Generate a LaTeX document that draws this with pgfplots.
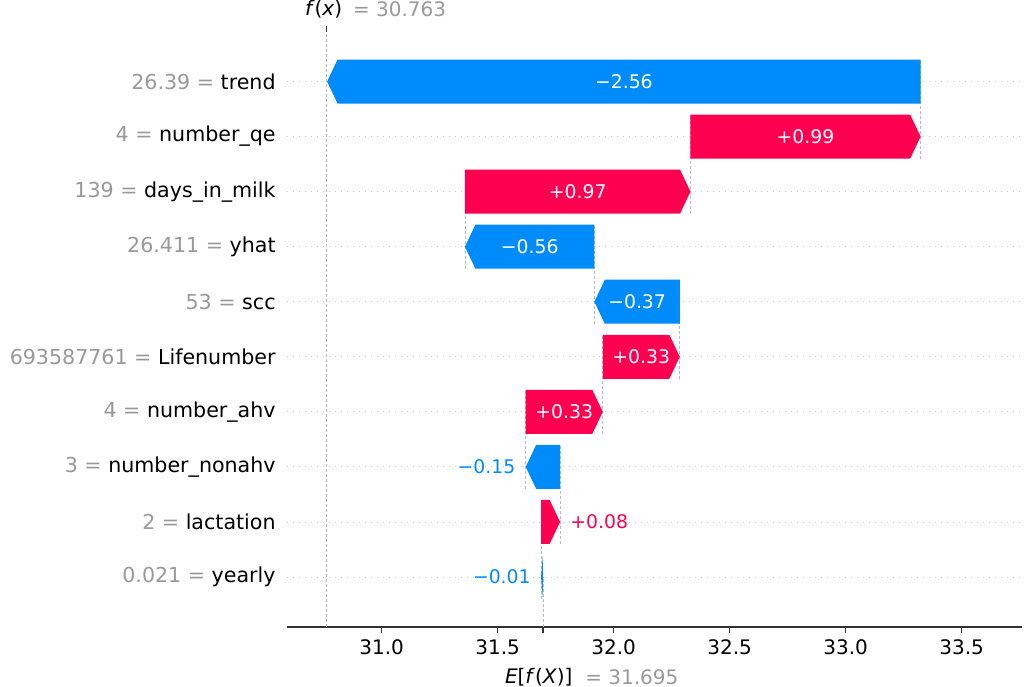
\documentclass[border=0pt]{standalone}
\usepackage{fontspec}
\setmainfont{DejaVu Sans}
\usepackage{pgfplots}
\pgfplotsset{compat=1.18}
\definecolor{shapred}{HTML}{FF0051}
\definecolor{shapblue}{HTML}{008BFB}
\definecolor{valgray}{HTML}{999999}
\definecolor{linegray}{HTML}{BBBBBB}
\definecolor{gridgray}{HTML}{CCCCCC}
\definecolor{axisgray}{HTML}{333333}
\newcommand{\fsz}{\fontsize{10bp}{12bp}\selectfont}
\newcommand{\lsz}{\fontsize{10.3bp}{12bp}\selectfont}
\newcommand{\bsz}{\fontsize{9.4bp}{11bp}\selectfont}

% one waterfall arrow: row, start, end, colour, label, label outside (1) or inside (0)
\newcommand{\shaparrow}[6]{%
  \pgfmathsetmacro{\shD}{#3-#2}%
  \pgfmathsetmacro{\shH}{min(abs(\shD),0.045)}%
  \pgfmathsetmacro{\shS}{ifthenelse(\shD<0,-1,1)}%
  \pgfmathsetmacro{\shB}{#3-\shS*\shH}%
  \pgfmathsetmacro{\shT}{#1+0.4}%
  \pgfmathsetmacro{\shL}{#1-0.4}%
  \pgfmathsetmacro{\shX}{ifthenelse(#6==0,(#2+#3)/2,#3)}%
  \addplot[fill=#4, draw=none, forget plot] coordinates {(#2,\shT) (\shB,\shT) (#3,#1) (\shB,\shL) (#2,\shL)};
  \def\shAnc{center}\def\shCol{white}\def\shOff{0}%
  \ifnum#6=1
    \def\shCol{#4}%
    \ifdim\shD pt<0pt \def\shAnc{east}\def\shOff{-5}\else\def\shAnc{west}\def\shOff{5}\fi
  \fi
  \edef\shN{\noexpand\node[anchor=\shAnc, text=\shCol, font=\noexpand\bsz, inner sep=0pt, xshift=\shOff bp] at (axis cs:\shX,#1) {\unexpanded{#5}};}%
  \shN
}

\begin{document}
\begin{tikzpicture}
\begin{axis}[
  scale only axis, width=367.5bp, height=297.5bp,
  xmin=30.592, xmax=33.76, ymin=-0.909, ymax=9.9,
  axis x line*=bottom, axis y line*=left,
  x axis line style={-, draw=axisgray, line width=0.8bp},
  y axis line style={draw=none},
  xtick={31,31.5,33,32,32.5,33.5},
  xticklabel style={/pgf/number format/fixed, /pgf/number format/precision=1,
    /pgf/number format/fixed zerofill, font=\fsz, text=black},
  /pgf/number format/assume math mode=true,
  x tick style={draw=axisgray, line width=0.8bp},
  tick align=outside, major tick length=3bp,
  extra x ticks={31.695}, extra x tick labels={},
  ytick={0,...,9},
  yticklabels={
    {\color{valgray}0.021 = }yearly,
    {\color{valgray}2 = }lactation,
    {\color{valgray}3 = }number\_nonahv,
    {\color{valgray}4 = }number\_ahv,
    {\color{valgray}693587761 = }Lifenumber,
    {\color{valgray}53 = }scc,
    {\color{valgray}26.411 = }yhat,
    {\color{valgray}139 = }days\_in\_milk,
    {\color{valgray}4 = }number\_qe,
    {\color{valgray}26.39 = }trend},
  ytick style={draw=none},
  yticklabel style={font=\lsz, text=black, inner sep=0pt, xshift=-2.5bp},
  ymajorgrids, y grid style={gridgray, line width=0.4bp, dash pattern=on 0.5bp off 2.5bp},
  clip=false, no markers,
]
% connectors between consecutive bars
\addplot[linegray, line width=0.4bp, dash pattern=on 1.5bp off 1bp, forget plot] coordinates {(30.763,-0.909) (30.763,9.9)};
\addplot[linegray, line width=0.4bp, dash pattern=on 1.5bp off 1bp, forget plot] coordinates {(31.695,-0.909) (31.695,0)};
\addplot[linegray, line width=0.4bp, dash pattern=on 1.5bp off 1bp, forget plot] coordinates {(31.687,-0.4) (31.687,1.4)};
\addplot[linegray, line width=0.4bp, dash pattern=on 1.5bp off 1bp, forget plot] coordinates {(31.769,0.6) (31.769,2.4)};
\addplot[linegray, line width=0.4bp, dash pattern=on 1.5bp off 1bp, forget plot] coordinates {(31.621,1.6) (31.621,3.4)};
\addplot[linegray, line width=0.4bp, dash pattern=on 1.5bp off 1bp, forget plot] coordinates {(31.953,2.6) (31.953,4.4)};
\addplot[linegray, line width=0.4bp, dash pattern=on 1.5bp off 1bp, forget plot] coordinates {(32.285,3.6) (32.285,5.4)};
\addplot[linegray, line width=0.4bp, dash pattern=on 1.5bp off 1bp, forget plot] coordinates {(31.917,4.6) (31.917,6.4)};
\addplot[linegray, line width=0.4bp, dash pattern=on 1.5bp off 1bp, forget plot] coordinates {(31.359,5.6) (31.359,7.4)};
\addplot[linegray, line width=0.4bp, dash pattern=on 1.5bp off 1bp, forget plot] coordinates {(32.331,6.6) (32.331,8.4)};
\addplot[linegray, line width=0.4bp, dash pattern=on 1.5bp off 1bp, forget plot] coordinates {(33.323,7.6) (33.323,9.4)};

\shaparrow{0}{31.695}{31.687}{shapblue}{−0.01}{1}
\shaparrow{1}{31.687}{31.769}{shapred}{+0.08}{1}
\shaparrow{2}{31.769}{31.621}{shapblue}{−0.15}{1}
\shaparrow{3}{31.621}{31.953}{shapred}{+0.33}{0}
\shaparrow{4}{31.953}{32.285}{shapred}{+0.33}{0}
\shaparrow{5}{32.285}{31.917}{shapblue}{−0.37}{0}
\shaparrow{6}{31.917}{31.359}{shapblue}{−0.56}{0}
\shaparrow{7}{31.359}{32.331}{shapred}{+0.97}{0}
\shaparrow{8}{32.331}{33.323}{shapred}{+0.99}{0}
\shaparrow{9}{33.323}{30.765}{shapblue}{−2.56}{0}

% f(x) and E[f(X)] markers
\draw[axisgray, line width=0.8bp] (axis cs:30.763,9.9) -- ([yshift=3bp]axis cs:30.763,9.9);
\node[anchor=east, font=\fsz, text=black, inner sep=0pt, xshift=8bp, yshift=11.5bp] at (axis cs:30.763,9.9) {\textit{f}(\textit{x})};
\node[anchor=west, font=\fsz, text=valgray, inner sep=0pt, xshift=13bp, yshift=11.5bp] at (axis cs:30.763,9.9) {= 30.763};
\node[anchor=east, font=\fsz, text=black, inner sep=0pt, xshift=15bp, yshift=-25bp] at (axis cs:31.695,-0.909) {\textit{E}[\textit{f}(\textit{X})]};
\node[anchor=west, font=\fsz, text=valgray, inner sep=0pt, xshift=21bp, yshift=-25bp] at (axis cs:31.695,-0.909) {= 31.695};
\coordinate (A) at (rel axis cs:0,0);
\end{axis}
\pgfresetboundingbox
\path (A) ++(-143.5bp,-30bp) rectangle ++(512bp,343.5bp);
\end{tikzpicture}
\end{document}
